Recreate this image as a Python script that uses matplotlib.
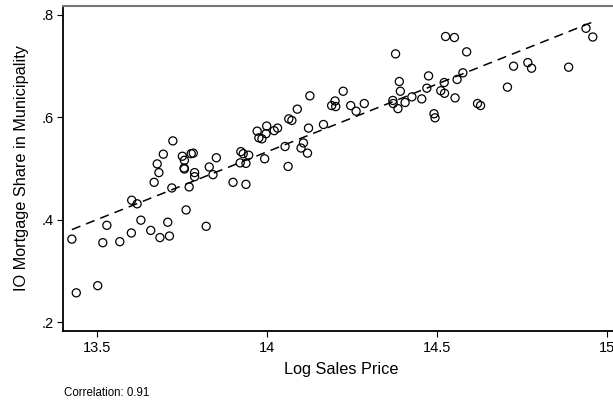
import numpy as np
import matplotlib
matplotlib.use("Agg")
import matplotlib.pyplot as plt
from matplotlib.ticker import FuncFormatter

plt.rcParams['font.family'] = ['Liberation Sans', 'DejaVu Sans']

# log sales price vs IO mortgage share, one point per municipality
log_price = [
    13.426, 13.439, 13.502, 13.517, 13.529, 13.567, 13.601, 13.602, 13.618, 13.629,
    13.658, 13.668, 13.677, 13.682, 13.685, 13.695, 13.708, 13.713, 13.720, 13.723,
    13.751, 13.757, 13.756, 13.757, 13.762, 13.771, 13.777, 13.783, 13.787, 13.787,
    13.821, 13.830, 13.841, 13.851, 13.900, 13.921, 13.923, 13.930, 13.938, 13.938,
    13.946, 13.971, 13.976, 13.985, 13.999, 13.997, 13.993, 14.021, 14.031, 14.053,
    14.062, 14.064, 14.073, 14.089, 14.100, 14.107, 14.119, 14.122, 14.126, 14.166,
    14.190, 14.200, 14.202, 14.224, 14.246, 14.262, 14.286, 14.370, 14.371, 14.385,
    14.392, 14.389, 14.406, 14.426, 14.455, 14.470, 14.491, 14.494, 14.378, 14.475,
    14.511, 14.521, 14.522, 14.525, 14.551, 14.553, 14.559, 14.576, 14.587, 14.619,
    14.628, 14.707, 14.725, 14.767, 14.778, 14.887, 14.938, 14.958,
]
io_share = [
    0.362, 0.257, 0.271, 0.355, 0.389, 0.357, 0.374, 0.438, 0.431, 0.399,
    0.379, 0.473, 0.509, 0.492, 0.365, 0.528, 0.395, 0.368, 0.462, 0.554,
    0.524, 0.516, 0.501, 0.499, 0.419, 0.464, 0.529, 0.530, 0.492, 0.484,
    0.387, 0.503, 0.488, 0.521, 0.473, 0.511, 0.533, 0.529, 0.510, 0.469,
    0.526, 0.573, 0.560, 0.558, 0.583, 0.568, 0.519, 0.574, 0.579, 0.543,
    0.504, 0.597, 0.594, 0.616, 0.540, 0.550, 0.530, 0.579, 0.642, 0.586,
    0.623, 0.632, 0.621, 0.651, 0.623, 0.612, 0.627, 0.633, 0.627, 0.617,
    0.651, 0.670, 0.629, 0.640, 0.636, 0.657, 0.607, 0.599, 0.724, 0.681,
    0.652, 0.668, 0.647, 0.758, 0.756, 0.638, 0.674, 0.687, 0.728, 0.627,
    0.623, 0.659, 0.700, 0.707, 0.696, 0.698, 0.774, 0.757,
]
x_ticks = [13.5, 14, 14.5, 15]
y_ticks = [0.2, 0.4, 0.6, 0.8]
corr_text = "Correlation: 0.91"

x = np.array(log_price)
y = np.array(io_share)

fig = plt.figure(figsize=(6.13, 4.05), dpi=100)
ax = fig.add_axes([0.1028, 0.1827, 0.9086, 0.8025])

ax.scatter(x, y, s=34, facecolors='none', edgecolors='black', linewidths=0.9, zorder=3)

# fitted line
b, a = np.polyfit(x, y, 1)
xs = np.array([x.min(), x.max()])
ax.plot(xs, a + b * xs, color='black', linestyle=(0, (6, 4)), linewidth=1.1, zorder=2)

ax.set_xlim(13.4, 15.038)
ax.set_ylim(0.1824, 0.8176)
ax.set_xticks(x_ticks)
ax.set_yticks(y_ticks)
ax.xaxis.set_major_formatter(FuncFormatter(lambda v, p: f"{v:g}"))
ax.yaxis.set_major_formatter(FuncFormatter(lambda v, p: f"{v:.1f}".lstrip('0')))
ax.tick_params(direction='out', length=4, width=0.8, labelsize=10.5, colors='black', pad=3)

for s in ['left', 'bottom']:
    ax.spines[s].set_linewidth(1.3)
    ax.spines[s].set_color('black')
ax.spines['top'].set_color('#777777')
ax.spines['top'].set_linewidth(1.5)
ax.spines['right'].set_visible(False)

ax.set_xlabel('Log Sales Price', fontsize=11.7, labelpad=5)
ax.set_ylabel('IO Mortgage Share in Municipality', fontsize=11.7, labelpad=9)

fig.text(0.105, 0.022, corr_text, fontsize=8.3)

fig.savefig('out.png', dpi=100)
